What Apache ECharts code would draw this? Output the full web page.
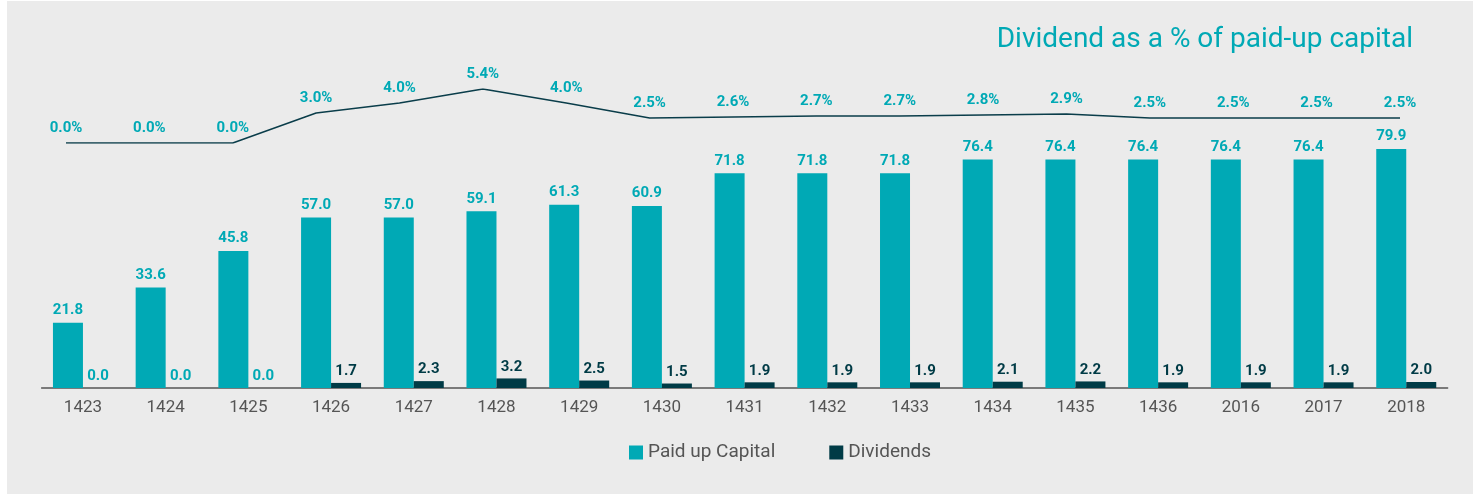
<!DOCTYPE html>
<html>
<head>
<meta charset="utf-8">
<script src="https://cdn.jsdelivr.net/npm/echarts@6/dist/echarts.min.js"></script>
<style>
  html, body { margin: 0; padding: 0; background: #ffffff; }
  #bg { position: absolute; left: 7px; top: 1px; width: 1466px; height: 493px; background: #ebebeb; }
  #main { position: absolute; left: 0; top: 0; width: 1480px; height: 494px; }
</style>
</head>
<body>
<div id="bg"></div>
<div id="main"></div>
<script>
// data
var years = ['1423', '1424', '1425', '1426', '1427', '1428', '1429', '1430', '1431',
  '1432', '1433', '1434', '1435', '1436', '2016', '2017', '2018'];
var paidUpCapital = [21.8, 33.6, 45.8, 57.0, 57.0, 59.1, 61.3, 60.9, 71.8,
  71.8, 71.8, 76.4, 76.4, 76.4, 76.4, 76.4, 79.9];
var dividends = [0.0, 0.0, 0.0, 1.7, 2.3, 3.2, 2.5, 1.5, 1.9,
  1.9, 1.9, 2.1, 2.2, 1.9, 1.9, 1.9, 2.0];
var dividendPct = [0.0, 0.0, 0.0, 3.0, 4.0, 5.4, 4.0, 2.5, 2.6,
  2.7, 2.7, 2.8, 2.9, 2.5, 2.5, 2.5, 2.5];

var teal = '#00a9b5';
var dark = '#003b46';
var font = 'Roboto, sans-serif';

// zero dividends get teal labels like in the original
var dividendData = dividends.map(function (v) {
  return v === 0 ? { value: v, label: { color: teal } } : v;
});

var chart = echarts.init(document.getElementById('main'));
chart.setOption({
  backgroundColor: 'transparent',
  animation: false,
  textStyle: { fontFamily: font },
  title: {
    text: 'Dividend as a % of paid-up capital',
    right: 62,
    top: 21,
    textStyle: { color: teal, fontSize: 28, fontWeight: 'normal', fontFamily: font }
  },
  legend: {
    data: ['Paid up Capital', 'Dividends'],
    bottom: 27,
    left: 624,
    icon: 'rect',
    itemWidth: 14,
    itemHeight: 14,
    itemGap: 54,
    textStyle: { color: '#555', fontSize: 19, fontFamily: font }
  },
  grid: [
    { left: 41.6, right: 32.4, top: 89, bottom: 106 },
    { left: 66, right: 80, top: 89, height: 54 }
  ],
  xAxis: [
    {
      type: 'category',
      gridIndex: 0,
      data: years,
      axisTick: { show: false },
      axisLine: { lineStyle: { color: '#555', width: 1.5 } },
      axisLabel: { color: '#555', fontSize: 17, margin: 11 }
    },
    {
      type: 'category',
      gridIndex: 1,
      data: years,
      boundaryGap: false,
      show: false
    }
  ],
  yAxis: [
    { type: 'value', gridIndex: 0, min: 0, max: 100, show: false },
    { type: 'value', gridIndex: 1, min: 0, max: 5.4, show: false }
  ],
  series: [
    {
      name: 'Paid up Capital',
      type: 'bar',
      xAxisIndex: 0,
      yAxisIndex: 0,
      data: paidUpCapital,
      barWidth: 30,
      barGap: '0%',
      itemStyle: { color: teal },
      label: {
        show: true,
        position: 'top',
        distance: 5,
        color: teal,
        fontSize: 15,
        fontWeight: 'bold',
        formatter: function (p) { return p.value.toFixed(1); }
      }
    },
    {
      name: 'Dividends',
      type: 'bar',
      xAxisIndex: 0,
      yAxisIndex: 0,
      data: dividendData,
      barWidth: 30,
      barGap: '0%',
      itemStyle: { color: dark },
      label: {
        show: true,
        position: 'top',
        distance: 4,
        color: dark,
        fontSize: 15,
        fontWeight: 'bold',
        formatter: function (p) { return p.value.toFixed(1); }
      }
    },
    {
      name: 'Dividend %',
      type: 'line',
      xAxisIndex: 1,
      yAxisIndex: 1,
      data: dividendPct,
      symbol: 'circle',
      symbolSize: 1,
      showSymbol: true,
      itemStyle: { color: 'rgba(0,0,0,0)' },
      lineStyle: { color: '#0a3d4a', width: 1.5 },
      label: {
        show: true,
        position: 'top',
        distance: 7,
        color: teal,
        fontSize: 15,
        fontWeight: 'bold',
        formatter: function (p) { return p.value.toFixed(1) + '%'; }
      }
    }
  ]
});
</script>
</body>
</html>
